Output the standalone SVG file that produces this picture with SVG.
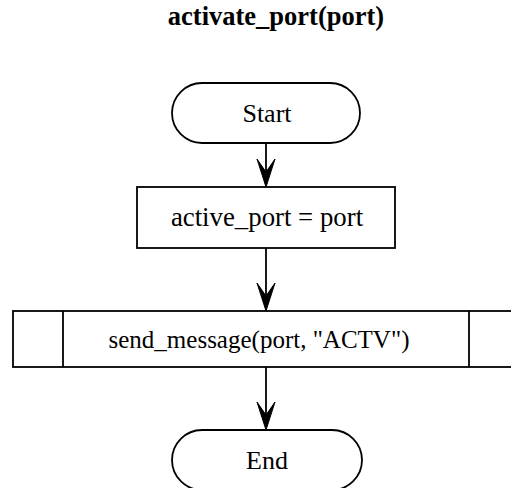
<svg xmlns="http://www.w3.org/2000/svg" width="511" height="488" viewBox="0 0 511 488">
  <style>
    .shape { fill: #ffffff; stroke: #000000; stroke-width: 1.8; }
    .label { font-family: "Liberation Serif", "Times New Roman", serif; font-size: 26px; fill: #000000; text-anchor: middle; }
    .title { font-family: "Liberation Serif", "Times New Roman", serif; font-size: 26.5px; font-weight: bold; fill: #000000; text-anchor: middle; }
    .edge { stroke: #000000; stroke-width: 1.8; fill: none; }
    .head { fill: #000000; stroke: #000000; stroke-width: 1; }
  </style>
  <defs>
    <path id="arrowhead" class="head" d="M0,0 L-9,-28 L0,-15 L9,-28 Z"/>
  </defs>

  <text class="title" x="276" y="25">activate_port(port)</text>

  <g id="connectors">
    <line class="edge" x1="266" y1="143" x2="266" y2="172"/>
    <use href="#arrowhead" x="266" y="187"/>
    <line class="edge" x1="266" y1="248" x2="266" y2="296"/>
    <use href="#arrowhead" x="266" y="311"/>
    <line class="edge" x1="266" y1="367" x2="266" y2="415"/>
    <use href="#arrowhead" x="266" y="430"/>
  </g>

  <g id="start">
    <rect class="shape" x="172" y="83" width="188" height="60" rx="30" ry="30"/>
    <text class="label" x="267" y="122">Start</text>
  </g>

  <g id="assign">
    <rect class="shape" x="137" y="187" width="258" height="61"/>
    <text class="label" x="267" y="226" style="font-size:26.8px">active_port = port</text>
  </g>

  <g id="send">
    <rect class="shape" x="13" y="311" width="506" height="56"/>
    <line class="shape" x1="63" y1="311" x2="63" y2="367"/>
    <line class="shape" x1="469" y1="311" x2="469" y2="367"/>
    <text class="label" x="259" y="348" style="font-size:25px">send_message(port, "ACTV")</text>
  </g>

  <g id="end">
    <rect class="shape" x="172" y="430" width="190" height="60" rx="30" ry="30"/>
    <text class="label" x="267" y="469">End</text>
  </g>
</svg>
